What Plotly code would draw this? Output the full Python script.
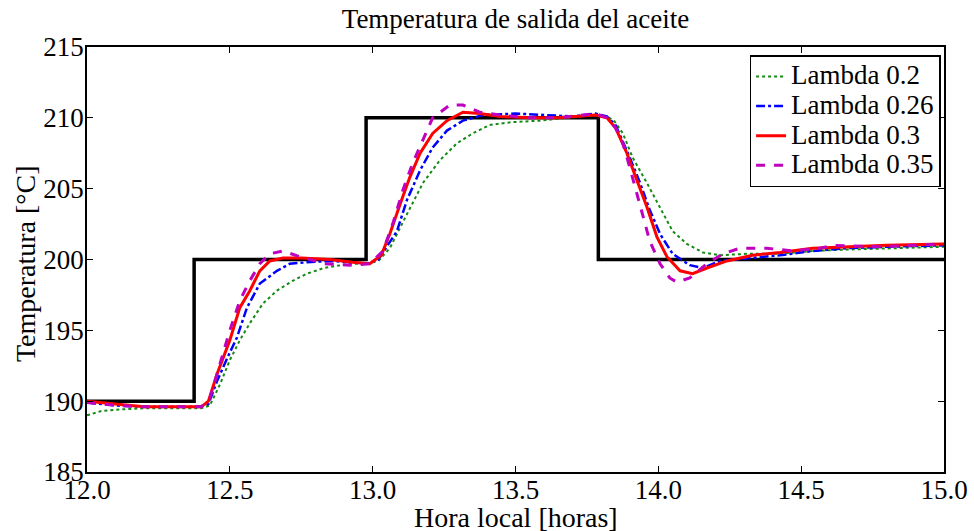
import plotly.graph_objects as go

# Setpoint (step changes)
sp_t = [12.0, 12.375, 12.977, 13.79, 15.0]
sp_v = [190, 200, 210, 200, 200]

# Lambda 0.2 (green, dotted)
g_t = [12.0, 12.05, 12.1, 12.2, 12.3, 12.4, 12.43, 12.466, 12.50, 12.535, 12.57, 12.616, 12.665,
       12.72, 12.77, 12.83, 12.92, 12.98, 13.02, 13.06, 13.12, 13.176, 13.235, 13.295, 13.35,
       13.41, 13.49, 13.585, 13.68, 13.78, 13.82, 13.845, 13.876, 13.91, 13.96, 14.006, 14.05,
       14.10, 14.156, 14.216, 14.31, 14.426, 14.54, 14.66, 14.8, 15.0]
g_v = [189.0, 189.3, 189.4, 189.5, 189.5, 189.5, 189.7, 191.2, 192.9, 194.3, 195.5, 196.9, 197.8,
       198.5, 199.0, 199.4, 199.7, 199.7, 199.9, 200.8, 203.2, 205.4, 207.0, 208.2, 208.9,
       209.5, 209.7, 209.8, 210.0, 210.2, 210.1, 209.8, 208.9, 207.2, 205.4, 203.7, 202.0,
       201.1, 200.5, 200.3, 200.4, 200.4, 200.6, 200.7, 200.8, 200.9]

# Lambda 0.26 (blue, dash-dot)
b_t = [12.0, 12.1, 12.2, 12.3, 12.4, 12.425, 12.455, 12.49, 12.525, 12.56, 12.605, 12.665, 12.71,
       12.77, 12.85, 12.93, 12.98, 13.02, 13.05, 13.085, 13.12, 13.166, 13.21, 13.26, 13.316,
       13.386, 13.5, 13.6, 13.7, 13.78, 13.82, 13.85, 13.875, 13.90, 13.936, 13.97, 14.006,
       14.05, 14.11, 14.156, 14.216, 14.31, 14.426, 14.54, 14.66, 14.8, 15.0]
b_v = [189.9, 189.7, 189.6, 189.6, 189.6, 189.8, 191.4, 193.0, 194.5, 196.6, 198.3, 199.2, 199.7,
       199.8, 199.9, 199.8, 199.7, 200.0, 200.9, 202.0, 204.2, 206.3, 207.9, 209.1, 209.8,
       210.2, 210.3, 210.2, 210.1, 210.3, 210.1, 209.5, 208.4, 207.2, 205.4, 203.5, 201.8,
       200.4, 199.6, 199.4, 199.9, 200.1, 200.3, 200.6, 200.8, 200.9, 201.0]

# Lambda 0.3 (red, solid)
r_t = [12.0, 12.1, 12.2, 12.3, 12.4, 12.425, 12.455, 12.50, 12.535, 12.57, 12.605, 12.64, 12.686,
       12.75, 12.85, 12.93, 12.99, 13.03, 13.06, 13.096, 13.13, 13.166, 13.21, 13.26, 13.316,
       13.375, 13.445, 13.55, 13.65, 13.78, 13.82, 13.85, 13.89, 13.925, 13.96, 13.995, 14.03,
       14.076, 14.12, 14.17, 14.24, 14.33, 14.426, 14.54, 14.66, 14.8, 15.0]
r_v = [190.0, 189.8, 189.6, 189.6, 189.6, 190.0, 191.9, 194.3, 196.6, 197.8, 199.2, 199.9, 200.1,
       200.1, 200.0, 199.8, 199.7, 200.3, 201.8, 203.9, 205.8, 207.5, 208.9, 209.8, 210.4,
       210.3, 210.1, 210.0, 210.0, 210.2, 210.0, 209.3, 207.5, 205.6, 203.7, 201.6, 200.2,
       199.2, 199.0, 199.4, 199.9, 200.3, 200.5, 200.8, 200.9, 201.0, 201.1]

# Lambda 0.35 (magenta, dashed)
m_t = [12.0, 12.1, 12.2, 12.3, 12.4, 12.43, 12.466, 12.50, 12.535, 12.57, 12.605, 12.64, 12.686,
       12.745, 12.83, 12.92, 12.99, 13.036, 13.07, 13.106, 13.14, 13.176, 13.21, 13.27, 13.316,
       13.375, 13.445, 13.55, 13.65, 13.78, 13.82, 13.85, 13.876, 13.90, 13.925, 13.946, 13.97,
       14.006, 14.04, 14.065, 14.11, 14.17, 14.226, 14.285, 14.38, 14.47, 14.566, 14.61, 14.776, 15.0]
m_v = [189.9, 189.7, 189.6, 189.6, 189.6, 190.2, 192.6, 195.0, 197.1, 198.5, 199.7, 200.4, 200.6,
       200.2, 199.7, 199.6, 199.7, 200.6, 202.5, 204.9, 206.8, 208.4, 210.0, 210.9, 210.9,
       210.4, 210.2, 210.0, 210.0, 210.3, 210.0, 209.3, 208.2, 206.5, 204.7, 203.0, 201.3,
       199.7, 198.7, 198.4, 198.7, 199.7, 200.4, 200.8, 200.8, 200.6, 200.8, 201.0, 200.9, 201.1]

x_ticks = [12.0, 12.5, 13.0, 13.5, 14.0, 14.5, 15.0]
y_ticks = [185, 190, 195, 200, 205, 210, 215]

FONT = "Liberation Serif, Times New Roman, serif"
LEG = "<span style='font-size:27px'>%s</span>"

fig = go.Figure()
fig.add_trace(go.Scatter(x=sp_t, y=sp_v, mode="lines", line=dict(color="black", width=3.5, shape="hv"),
                         showlegend=False, hoverinfo="skip"))
fig.add_trace(go.Scatter(x=g_t, y=g_v, mode="lines", name=LEG % "Lambda 0.2",
                         line=dict(color="#138a13", width=2, dash="dot")))
fig.add_trace(go.Scatter(x=b_t, y=b_v, mode="lines", name=LEG % "Lambda 0.26",
                         line=dict(color="#0000ff", width=2.5, dash="dashdot")))
fig.add_trace(go.Scatter(x=r_t, y=r_v, mode="lines", name=LEG % "Lambda 0.3",
                         line=dict(color="#ff0000", width=3)))
fig.add_trace(go.Scatter(x=m_t, y=m_v, mode="lines", name=LEG % "Lambda 0.35",
                         line=dict(color="#bf00bf", width=3, dash="dash")))

fig.update_layout(
    width=974, height=531,
    margin=dict(l=87, r=30, t=47, b=59, autoexpand=False),
    paper_bgcolor="white", plot_bgcolor="white",
    font=dict(family=FONT, color="black", size=27),
    title=dict(text="Temperatura de salida del aceite", x=0.5, xref="paper", xanchor="center",
               y=0.983, yref="container", yanchor="top", font=dict(size=27)),
    legend=dict(x=0.996, xanchor="right", y=0.981, yanchor="top",
                bordercolor="black", borderwidth=1.5, bgcolor="white",
                font=dict(size=20.5), itemwidth=30, tracegroupgap=0),
    showlegend=True,
    annotations=[
        dict(text="Hora local [horas]", xref="paper", yref="paper", x=0.5, y=-0.108,
             xanchor="center", yanchor="middle", showarrow=False, font=dict(size=28)),
        dict(text="Temperatura [°C]", xref="paper", yref="paper", x=-0.072, y=0.49,
             xanchor="center", yanchor="middle", textangle=-90, showarrow=False, font=dict(size=28)),
    ],
)
fig.update_xaxes(range=[12, 15], tickvals=x_ticks, ticktext=[f"{v:.1f}" for v in x_ticks],
                 ticks="inside", ticklen=6, tickcolor="black", showgrid=False, zeroline=False,
                 showline=True, linecolor="black", linewidth=1.5, mirror="ticks",
                 tickfont=dict(size=27), automargin=False, ticklabelstandoff=-7)
fig.update_yaxes(range=[185, 215], tickvals=y_ticks, ticks="inside", ticklen=6, tickcolor="black",
                 showgrid=False, zeroline=False, showline=True, linecolor="black", linewidth=1.5,
                 mirror="ticks", tickfont=dict(size=27), automargin=False, ticklabelstandoff=-4)

fig.write_html("out.html", config={"displayModeBar": False},
               post_script="document.body.style.margin='0px';")
